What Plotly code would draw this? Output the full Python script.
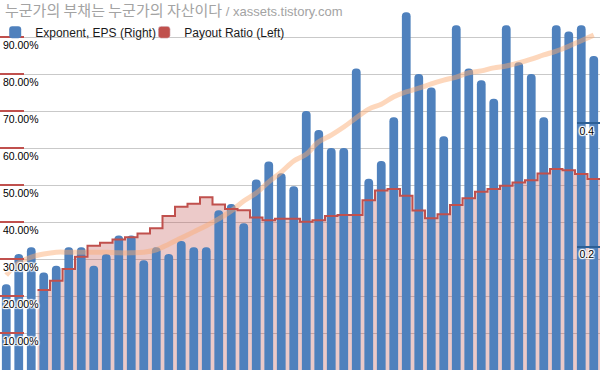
import plotly.graph_objects as go

# ---- data ----
periods = list(range(48))  # category index, one per bar

eps = [0.139, 0.188, 0.199, 0.158, 0.169, 0.199, 0.199, 0.169, 0.188, 0.218,
       0.218, 0.178, 0.199, 0.188, 0.209, 0.199, 0.199, 0.259, 0.269, 0.238,
       0.309, 0.338, 0.319, 0.298, 0.420, 0.389, 0.360, 0.360, 0.489, 0.310,
       0.339, 0.410, 0.580, 0.480, 0.458, 0.379, 0.559, 0.489, 0.470, 0.440,
       0.559, 0.499, 0.480, 0.410, 0.559, 0.549, 0.559, 0.509]

payout = [None, None, None, 21.6, 24.1, 27.3, 30.6, 33.6, 34.4, 35.3,
          35.9, 36.9, 38.3, 41.6, 44.1, 44.9, 46.7, 44.7, 43.5, 43.2,
          41.2, 40.5, 40.9, 40.9, 40.1, 40.5, 41.6, 41.9, 41.9, 45.9,
          48.5, 48.9, 47.1, 43.1, 41.0, 42.1, 44.6, 46.4, 48.2, 48.9,
          49.8, 50.7, 51.3, 53.1, 54.3, 54.0, 53.0, 51.6]

eps_trend = [0.154, 0.174, 0.183, 0.188, 0.191, 0.191, 0.191, 0.191, 0.191, 0.190,
             0.190, 0.191, 0.195, 0.204, 0.214, 0.224, 0.234, 0.245, 0.258, 0.274,
             0.287, 0.305, 0.321, 0.339, 0.350, 0.370, 0.381, 0.394, 0.409, 0.423,
             0.431, 0.443, 0.451, 0.457, 0.464, 0.470, 0.475, 0.482, 0.485, 0.490,
             0.493, 0.498, 0.504, 0.511, 0.517, 0.525, 0.534, 0.543]

left_tickvals = [0, 10, 20, 30, 40, 50, 60, 70, 80, 90, 100]
left_ticktext = ["", "10.00%", "20.00%", "30.00%", "40.00%", "50.00%",
                 "60.00%", "70.00%", "80.00%", "90.00%", ""]
right_tickvals = [0, 0.2, 0.4, 0.6]
right_ticktext = ["", "0.2", "0.4", ""]

title_kr = "누군가의 부채는 누군가의 자산이다"
title_en = " / xassets.tistory.com"

# ---- stepped payout series (each value spans its own category slot) ----
pairs = [(p, v) for p, v in zip(periods, payout) if v is not None]
step_x = [p - 0.5 for p, _ in pairs] + [pairs[-1][0] + 0.5]
step_y = [v for _, v in pairs] + [pairs[-1][1]]

halo = ("1px 0px 1px #fff, -1px 0px 1px #fff, 0px 1px 1px #fff, 0px -1px 1px #fff, "
        "1px 1px 1px #fff, -1px -1px 1px #fff, 1px -1px 1px #fff, -1px 1px 1px #fff")

fig = go.Figure()

fig.add_trace(go.Scatter(
    x=step_x, y=step_y, mode="lines",
    line=dict(width=0, shape="hv"),
    fill="tozeroy", fillcolor="rgba(192,80,77,0.3)",
    yaxis="y", showlegend=False, hoverinfo="skip"))

fig.add_trace(go.Bar(
    x=periods, y=eps, width=0.7, marker=dict(color="#4f81bd", line=dict(width=0)),
    name="Exponent, EPS (Right)", yaxis="y2"))

fig.add_trace(go.Scatter(
    x=periods, y=eps_trend, mode="lines",
    line=dict(color="rgba(250,172,115,0.48)", width=5, shape="spline"),
    yaxis="y2", showlegend=False, hoverinfo="skip"))

fig.add_trace(go.Scatter(
    x=step_x, y=step_y, mode="lines",
    line=dict(color="#c0504d", width=2, shape="hv"),
    yaxis="y3", showlegend=False))

fig.add_trace(go.Bar(
    x=[None], y=[None], marker=dict(color="#c0504d"),
    name="Payout Ratio (Left)", yaxis="y3"))

fig.update_layout(
    width=600, height=371,
    margin=dict(l=0, r=0, t=0, b=1, pad=0, autoexpand=False),
    paper_bgcolor="white", plot_bgcolor="white",
    barmode="overlay", barcornerradius=4,
    font=dict(family="Liberation Sans, Arial, sans-serif", color="#000"),
    xaxis=dict(range=[-0.5, 47.5], visible=False, fixedrange=True, automargin=False),
    yaxis=dict(
        range=[0, 100], tickvals=left_tickvals, ticktext=left_ticktext,
        ticks="inside", ticklen=24, tickwidth=2, tickcolor="#c0504d",
        ticklabelposition="inside", ticklabelstandoff=-22, ticklabelshift=8,
        showgrid=True, gridcolor="#c9c9c9", gridwidth=1, automargin=False,
        zeroline=False, showline=False,
        tickfont=dict(family="Liberation Sans", size=10.5, color="#000", shadow=halo)),
    yaxis2=dict(
        overlaying="y", side="right", range=[0, 0.6],
        tickvals=right_tickvals, ticktext=right_ticktext,
        ticks="inside", ticklen=23, tickwidth=2, tickcolor="#2d5f95",
        ticklabelposition="inside", ticklabelstandoff=-18, ticklabelshift=8,
        showgrid=False, zeroline=False, showline=False, automargin=False,
        tickfont=dict(family="Liberation Sans", size=10.5, color="#000", shadow=halo)),
    yaxis3=dict(overlaying="y", range=[0, 100], visible=False),
    legend=dict(
        orientation="h", x=-0.008, y=0.952, xanchor="left", yanchor="top",
        bgcolor="rgba(0,0,0,0)", font=dict(family="Liberation Sans", size=12, color="#1a1a1a"),
        traceorder="normal", entrywidth=104, entrywidthmode="pixels"),
    showlegend=True,
)

fig.add_annotation(
    xref="paper", yref="paper", x=0.005, y=1.0, xanchor="left", yanchor="top",
    showarrow=False, align="left", yshift=3,
    text=(title_kr + "<span style=\"font-family:'Liberation Sans';font-size:13px\">"
          + title_en + "</span>"),
    font=dict(family="Noto Sans CJK KR", color="#a3a3a3", size=15))

fig.write_html("out.html", config={"displayModeBar": False},
               post_script="document.body.style.margin='0px';")
